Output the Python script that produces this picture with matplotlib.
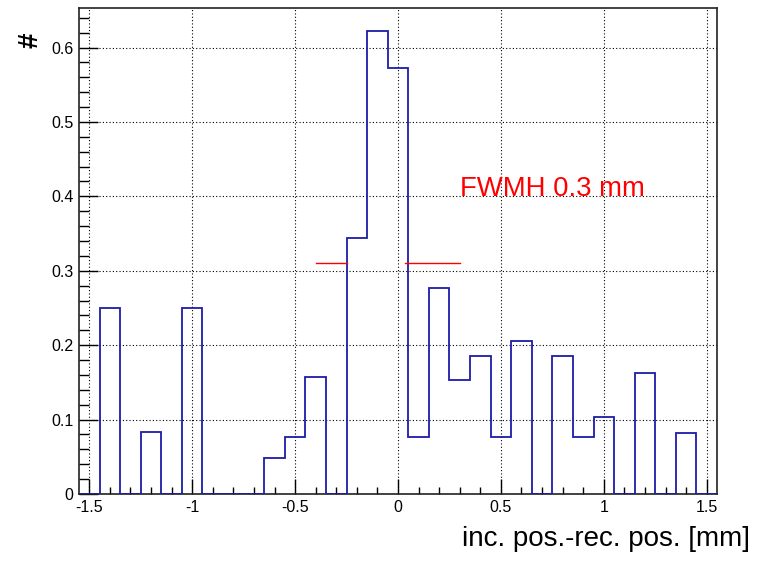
import numpy as np
import matplotlib
matplotlib.use("Agg")
import matplotlib.pyplot as plt
from matplotlib.ticker import MultipleLocator

plt.rcParams['font.family'] = ['Liberation Sans', 'DejaVu Sans']

# histogram: 31 bins of 0.1 mm from -1.55 to 1.55
bin_lo = -1.55
bin_w = 0.1
counts = [0, 0.25, 0, 0.083, 0, 0.25, 0, 0, 0, 0.049,
          0.076, 0.157, 0, 0.344, 0.622, 0.572, 0.076, 0.277, 0.153, 0.185,
          0.076, 0.206, 0, 0.185, 0.076, 0.104, 0, 0.163, 0, 0.082, 0]

# half-maximum markers
half_max = 0.31
left_seg = [-0.40, -0.25]
right_seg = [0.035, 0.30]
fwhm_text = "FWMH 0.3 mm"
fwhm_pos = (0.30, 0.40)

edges = bin_lo + bin_w * np.arange(len(counts) + 1)

fig = plt.figure(figsize=(7.69, 5.63), dpi=100)
ax = fig.add_axes([0.1027, 0.1226, 0.8297, 0.8632])

ax.stairs(counts, edges, baseline=0, fill=False, color='#1c1ca8', linewidth=1.3, zorder=3)

ax.plot(left_seg, [half_max, half_max], color='red', linewidth=1.0, zorder=4)
ax.plot(right_seg, [half_max, half_max], color='red', linewidth=1.0, zorder=4)
ax.text(fwhm_pos[0], fwhm_pos[1], fwhm_text, color='red', fontsize=19.8,
        ha='left', va='baseline')

ax.set_xlim(edges[0], edges[-1])
ax.set_ylim(0, max(counts) * 1.05)

ax.xaxis.set_minor_locator(MultipleLocator(0.1))
ax.yaxis.set_minor_locator(MultipleLocator(0.02))

ax.set_xticks([-1.5, -1, -0.5, 0, 0.5, 1, 1.5])
ax.set_xticklabels(['-1.5', '-1', '-0.5', '0', '0.5', '1', '1.5'])
ax.set_yticks([0, 0.1, 0.2, 0.3, 0.4, 0.5, 0.6])
ax.set_yticklabels(['0', '0.1', '0.2', '0.3', '0.4', '0.5', '0.6'])

ax.tick_params(axis='x', which='major', direction='in', length=10.5, width=1.0,
               labelsize=11.5, pad=4, top=False)
ax.tick_params(axis='x', which='minor', direction='in', length=5.3, width=1.0, top=False)
ax.tick_params(axis='y', which='major', direction='in', length=13.7, width=1.0,
               labelsize=11.5, pad=4, right=False)
ax.tick_params(axis='y', which='minor', direction='in', length=7.5, width=1.0, right=False)

ax.grid(True, which='major', color='black', linestyle=(0, (1, 2)), linewidth=0.8)
for s in ax.spines.values():
    s.set_linewidth(1.2)
    s.set_color('#222222')

# axis titles placed like ROOT does (right / top aligned)
fig.text(750 / 769, 17 / 563, 'inc. pos.-rec. pos. [mm]', fontsize=20,
         ha='right', va='baseline')
fig.text(30 / 769, 1 - 40 / 563, '#', rotation=90, fontsize=20, fontweight='bold',
         ha='center', va='center')

fig.savefig('out.png', dpi=100)
